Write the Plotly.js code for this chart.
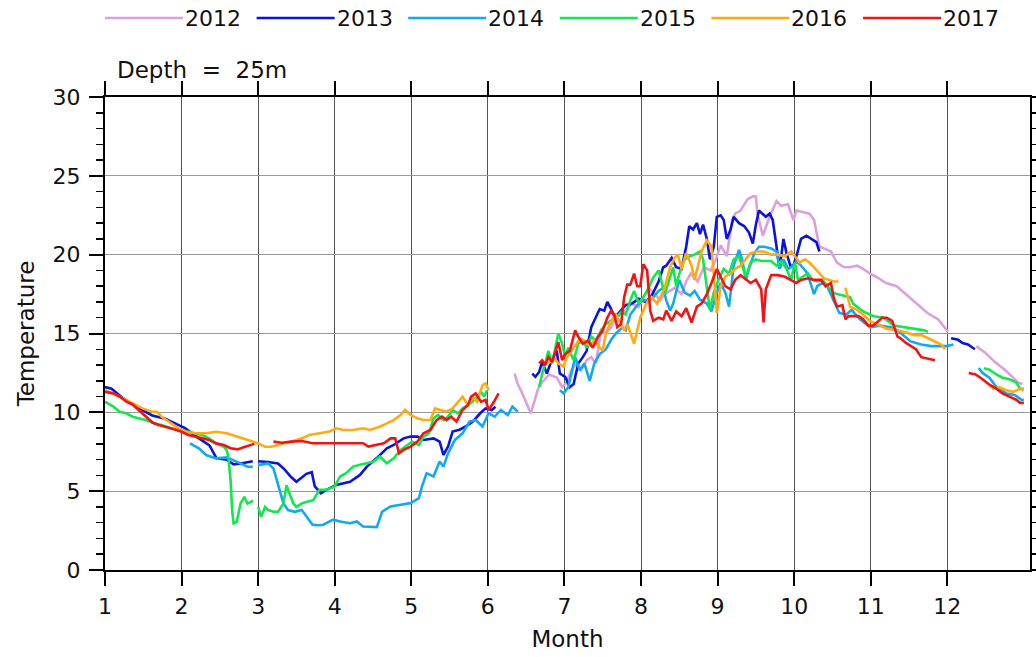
<!DOCTYPE html>
<html>
<head>
<meta charset="utf-8">
<script src="https://cdn.plot.ly/plotly-3.0.1.min.js"></script>
<style>html,body{margin:0;padding:0;background:#fff;}#chart{width:1036px;height:657px;}</style>
</head>
<body>
<div id="chart"></div>
<script>
// Month (decimal) and temperature (°C) at 25 m depth; null marks a data gap
const years = ["2012", "2013", "2014", "2015", "2016", "2017"];
const colors = ["#DDA0DD", "#0A14DC", "#12A8F2", "#14E650", "#FFAA14", "#F01414"];
const monthTicks = [1, 2, 3, 4, 5, 6, 7, 8, 9, 10, 11, 12];
const tempTicks = [0, 5, 10, 15, 20, 25, 30];

const y2012 = [[6.35,12.46],[6.39,11.8],[6.45,11.2],[6.52,10.36],[6.56,9.94],[6.6,10.57],[6.65,11.4],[6.69,11.8],[6.8,12.4],[6.9,12.2],[6.97,11.6],[7.03,11.9],[7.09,12.67],[7.16,13.1],[7.22,12.67],[7.29,13.3],[7.35,13.5],[7.41,13.1],[7.48,15.2],[7.54,15.0],[7.61,15.4],[7.67,16.0],[7.74,16.2],[7.8,16.45],[7.88,16.9],[7.97,16.7],[8.03,17.3],[8.1,17.9],[8.18,17.5],[8.25,17.1],[8.31,17.5],[8.38,17.7],[8.44,17.9],[8.53,17.5],[8.59,18.3],[8.65,18.8],[8.74,18.3],[8.82,19.2],[8.91,19.0],[8.97,19.6],[9.04,20.6],[9.12,19.9],[9.19,22.2],[9.23,22.6],[9.3,22.8],[9.39,23.5],[9.46,23.7],[9.5,23.7],[9.52,22.6],[9.59,21.2],[9.68,22.4],[9.77,23.4],[9.83,23.1],[9.92,23.2],[9.99,22.2],[10.03,22.8],[10.11,22.7],[10.2,22.6],[10.26,22.2],[10.33,20.5],[10.39,20.4],[10.48,20.2],[10.56,19.5],[10.65,19.2],[10.73,19.2],[10.82,19.3],[10.9,19.1],[10.99,18.8],[11.07,18.6],[11.2,18.2],[11.34,18.0],[11.48,17.4],[11.61,16.9],[11.74,16.3],[11.88,15.9],[12.01,15.1],null,[12.38,14.2],[12.49,13.8],[12.62,13.2],[12.75,12.7],[12.86,12.2],[12.92,11.9],[12.98,11.8]];

const y2013 = [[1.0,11.6],[1.085,11.5],[1.234,10.9],[1.447,10.25],[1.617,9.8],[1.787,9.6],[1.957,9.2],[2.045,9.0],[2.227,8.35],[2.364,7.9],[2.455,7.1],[2.59,7.0],[2.68,6.7],[2.77,6.75],[2.93,6.9],null,[3.0,6.9],[3.13,6.85],[3.26,6.75],[3.35,6.35],[3.43,5.9],[3.5,5.6],[3.63,6.1],[3.7,6.2],[3.74,5.3],[3.82,4.87],[3.89,5.08],[4.02,5.4],[4.2,5.6],[4.33,6.03],[4.42,6.56],[4.55,7.1],[4.68,7.72],[4.77,7.93],[4.9,8.35],[4.99,8.46],[5.08,8.46],[5.16,8.25],[5.29,8.35],[5.37,8.14],[5.42,7.3],[5.48,7.83],[5.54,8.78],[5.63,8.9],[5.71,9.1],[5.8,9.4],[5.9,9.94],[5.97,10.25],[6.05,10.15],[6.1,10.36],null,[6.58,12.46],[6.62,12.25],[6.67,12.56],[6.71,13.2],[6.77,12.46],[6.84,13.4],[6.9,13.9],[6.94,12.46],[7.01,12.25],[7.07,11.6],[7.12,11.8],[7.18,13.1],[7.24,13.5],[7.29,13.9],[7.35,15.4],[7.39,15.8],[7.46,16.55],[7.52,16.45],[7.56,17.0],[7.61,16.55],[7.65,16.1],[7.69,16.2],[7.74,16.45],[7.8,16.8],[7.88,16.9],[7.97,17.2],[8.06,17.0],[8.14,17.4],[8.23,18.3],[8.29,19.2],[8.33,19.3],[8.4,19.8],[8.46,19.2],[8.53,19.1],[8.59,20.5],[8.63,21.8],[8.68,21.6],[8.73,22.0],[8.77,21.3],[8.81,21.9],[8.86,21.0],[8.9,19.7],[8.95,20.5],[8.99,22.4],[9.04,22.5],[9.08,22.2],[9.12,21.0],[9.17,21.6],[9.21,22.4],[9.28,22.0],[9.35,21.8],[9.41,21.4],[9.46,20.7],[9.5,21.9],[9.54,22.8],[9.59,22.6],[9.63,22.4],[9.68,22.6],[9.72,22.2],[9.77,20.5],[9.81,19.1],[9.86,21.0],[9.9,20.1],[9.95,19.3],[9.99,19.3],[10.03,19.9],[10.09,21.0],[10.16,21.2],[10.22,21.0],[10.29,20.8],[10.33,20.2],null,[12.05,14.7],[12.14,14.6],[12.2,14.4],[12.27,14.3],[12.36,14.0]];

const y2014 = [[2.11,8.03],[2.23,7.7],[2.32,7.29],[2.45,7.08],[2.59,7.14],[2.68,6.97],[2.77,6.76],[2.86,6.55],[2.93,6.55],null,[3.0,6.65],[3.13,6.76],[3.2,6.44],[3.26,5.49],[3.33,4.22],[3.39,3.8],[3.48,3.69],[3.57,3.8],[3.65,3.26],[3.71,2.87],[3.8,2.84],[3.85,2.87],[3.98,3.19],[4.07,3.08],[4.2,2.97],[4.29,3.08],[4.37,2.76],[4.46,2.76],[4.55,2.72],[4.62,3.71],[4.73,4.03],[4.86,4.14],[4.99,4.24],[5.1,4.56],[5.14,5.3],[5.2,6.14],[5.29,5.93],[5.37,6.88],[5.42,6.56],[5.48,7.4],[5.57,8.25],[5.67,8.67],[5.76,9.41],[5.84,9.51],[5.93,9.1],[6.01,9.94],[6.09,9.73],[6.17,10.15],[6.26,9.83],[6.32,10.36],[6.39,10.04],null,[6.94,11.4],[6.99,11.2],[7.05,11.6],[7.09,12.46],[7.14,13.5],[7.2,12.67],[7.26,13.1],[7.33,12.0],[7.39,13.1],[7.46,13.7],[7.54,14.0],[7.61,14.6],[7.67,15.0],[7.76,15.4],[7.8,15.2],[7.86,16.2],[7.93,16.66],[8.01,17.1],[8.1,17.1],[8.16,17.3],[8.23,17.7],[8.29,17.9],[8.33,17.1],[8.38,16.45],[8.42,16.9],[8.5,18.4],[8.57,17.6],[8.64,17.4],[8.7,17.7],[8.77,17.15],[8.86,16.9],[8.92,16.4],[8.99,17.6],[9.04,18.2],[9.1,17.6],[9.15,16.7],[9.21,19.3],[9.28,20.3],[9.32,19.7],[9.37,18.4],[9.41,19.1],[9.48,20.1],[9.54,20.5],[9.61,20.5],[9.7,20.4],[9.77,20.2],[9.81,19.1],[9.86,19.7],[9.92,19.1],[9.99,19.3],[10.03,19.6],[10.09,19.3],[10.16,18.9],[10.2,18.4],[10.26,17.5],[10.3,18.0],[10.37,18.2],[10.43,18.0],[10.5,17.3],[10.59,16.3],[10.68,16.2],[10.75,16.5],[10.86,15.9],[10.99,15.4],[11.12,15.5],[11.26,15.4],[11.35,15.2],[11.44,14.8],[11.52,14.5],[11.66,14.3],[11.79,14.2],[11.92,14.2],[11.99,14.2],[12.08,14.3],null,[12.41,12.8],[12.46,12.5],[12.55,12.2],[12.64,11.6],[12.77,11.2],[12.88,11.1],[12.97,10.8],[13.0,10.8]];

const y2015 = [[1.0,10.68],[1.11,10.36],[1.19,10.04],[1.28,9.94],[1.36,9.72],[1.45,9.62],[1.53,9.51],[1.64,9.3],[1.74,9.2],[1.87,8.98],[2.0,8.88],[2.14,8.71],[2.27,8.56],[2.36,8.35],[2.45,8.03],[2.55,7.82],[2.59,7.61],[2.61,7.18],[2.64,5.7],[2.66,3.8],[2.68,2.95],[2.72,3.05],[2.77,4.22],[2.82,4.64],[2.86,4.22],[2.91,4.32],[2.93,4.43],null,[3.0,4.0],[3.04,3.37],[3.09,4.0],[3.13,3.8],[3.2,3.69],[3.26,3.69],[3.33,4.22],[3.37,5.38],[3.41,4.85],[3.46,4.22],[3.5,4.0],[3.57,4.22],[3.63,4.32],[3.72,4.43],[3.8,5.08],[3.89,5.08],[4.0,5.3],[4.07,5.93],[4.15,6.14],[4.24,6.56],[4.33,6.67],[4.42,6.77],[4.51,6.88],[4.59,7.2],[4.68,6.77],[4.77,7.09],[4.86,7.62],[4.95,7.93],[5.01,8.14],[5.1,7.93],[5.16,8.46],[5.23,8.67],[5.29,9.62],[5.35,9.83],[5.42,9.51],[5.48,9.73],[5.54,10.15],[5.61,9.94],[5.67,10.25],[5.74,10.46],[5.8,10.68],[5.86,10.99],[5.91,11.3],[5.95,11.0],[5.99,11.4],null,[6.67,11.6],[6.71,12.46],[6.75,13.1],[6.79,13.9],[6.84,13.1],[6.88,14.1],[6.92,15.0],[6.97,14.35],[7.01,13.5],[7.05,14.1],[7.12,13.3],[7.18,14.35],[7.24,14.55],[7.29,14.1],[7.35,14.8],[7.41,14.55],[7.48,15.2],[7.54,15.6],[7.61,15.8],[7.67,16.0],[7.74,16.35],[7.8,16.2],[7.86,17.1],[7.91,17.7],[7.97,16.9],[8.03,17.3],[8.1,17.9],[8.16,18.55],[8.23,19.0],[8.27,18.3],[8.31,17.5],[8.35,18.1],[8.42,19.2],[8.46,18.0],[8.5,18.8],[8.57,19.7],[8.64,19.9],[8.7,20.0],[8.77,20.2],[8.81,19.7],[8.86,18.0],[8.9,16.5],[8.95,17.6],[9.01,18.4],[9.08,19.1],[9.15,18.8],[9.21,19.7],[9.28,19.9],[9.32,19.3],[9.37,18.6],[9.43,19.5],[9.5,19.7],[9.57,19.6],[9.63,19.6],[9.7,19.6],[9.77,19.3],[9.83,19.6],[9.9,19.1],[9.96,18.4],[10.01,19.5],[10.05,18.4],[10.11,18.6],[10.18,18.8],[10.24,18.4],[10.31,18.3],[10.37,18.4],[10.43,18.0],[10.5,17.6],[10.56,17.5],[10.65,17.4],[10.73,17.3],[10.77,16.9],[10.9,16.4],[11.04,16.1],[11.17,16.0],[11.3,15.5],[11.44,15.4],[11.57,15.3],[11.7,15.2],[11.75,15.1],null,[12.48,12.8],[12.55,12.7],[12.64,12.4],[12.72,12.2],[12.81,12.1],[12.9,11.9],[12.95,11.5],[13.0,11.5]];

const y2016 = [[1.0,11.4],[1.11,11.2],[1.23,10.9],[1.36,10.57],[1.49,10.25],[1.62,10.04],[1.68,10.04],[1.74,9.72],[1.83,9.41],[1.96,8.98],[2.05,8.77],[2.18,8.67],[2.32,8.67],[2.45,8.77],[2.59,8.67],[2.73,8.46],[2.86,8.25],[3.0,8.03],[3.09,7.82],[3.17,7.82],[3.26,7.93],[3.35,8.03],[3.43,8.14],[3.57,8.35],[3.67,8.56],[3.8,8.67],[3.93,8.78],[4.02,8.99],[4.11,8.88],[4.24,8.88],[4.37,8.99],[4.46,8.88],[4.59,9.09],[4.68,9.3],[4.77,9.51],[4.86,9.83],[4.92,10.15],[4.99,9.83],[5.08,9.62],[5.16,9.51],[5.25,9.51],[5.31,10.25],[5.37,10.15],[5.46,10.04],[5.54,10.25],[5.61,10.67],[5.67,10.99],[5.74,10.46],[5.8,10.99],[5.86,10.67],[5.93,11.73],[5.97,11.84],[6.01,11.41],null,[6.79,13.1],[6.86,13.5],[6.92,13.1],[6.99,12.9],[7.03,13.5],[7.09,13.9],[7.16,14.35],[7.2,14.7],[7.26,14.55],[7.33,14.25],[7.39,14.55],[7.46,14.1],[7.5,13.9],[7.54,15.0],[7.61,15.8],[7.67,16.2],[7.71,15.8],[7.78,15.2],[7.82,15.6],[7.86,15.0],[7.91,14.35],[7.95,15.2],[7.99,16.0],[8.06,16.8],[8.1,17.1],[8.14,17.3],[8.21,16.9],[8.25,17.3],[8.31,17.9],[8.38,19.2],[8.44,19.8],[8.48,20.0],[8.53,19.1],[8.59,20.1],[8.66,19.3],[8.7,18.4],[8.75,19.5],[8.79,20.2],[8.86,20.9],[8.92,20.5],[8.97,17.6],[8.99,16.3],[9.04,18.0],[9.1,18.6],[9.17,18.8],[9.23,19.1],[9.3,19.3],[9.37,19.7],[9.43,20.1],[9.52,20.2],[9.61,20.2],[9.7,20.0],[9.79,20.0],[9.88,19.9],[9.96,20.2],[10.01,19.9],[10.07,19.5],[10.14,19.7],[10.2,19.5],[10.26,19.2],[10.33,18.8],[10.39,18.5],[10.46,18.4],[10.52,18.3],[10.58,18.3],null,[10.67,17.9],[10.73,16.7],[10.82,16.5],[10.9,16.2],[10.99,15.8],[11.12,15.5],[11.21,15.3],[11.35,15.2],[11.44,15.1],[11.57,14.9],[11.66,14.9],[11.75,14.7],[11.84,14.5],[11.92,14.3],[11.97,14.0],null,[12.55,11.75],[12.6,11.5],[12.68,11.6],[12.77,11.4],[12.86,11.3],[12.95,11.5],[13.0,11.4]];

const y2017 = [[1.0,11.3],[1.11,11.2],[1.19,11.0],[1.28,10.68],[1.36,10.5],[1.45,10.1],[1.53,9.7],[1.62,9.35],[1.7,9.2],[1.79,9.09],[1.87,8.98],[2.0,8.77],[2.09,8.56],[2.18,8.46],[2.27,8.35],[2.36,8.25],[2.45,8.03],[2.55,7.93],[2.64,7.72],[2.73,7.65],[2.82,7.8],[2.91,7.93],[2.95,8.0],null,[3.2,8.14],[3.31,8.07],[3.43,8.14],[3.57,8.18],[3.71,8.04],[3.89,8.04],[4.07,8.04],[4.24,8.04],[4.37,8.04],[4.44,7.83],[4.53,7.93],[4.64,8.04],[4.73,8.35],[4.79,8.35],[4.84,7.4],[4.9,7.62],[4.99,7.83],[5.08,8.14],[5.16,8.67],[5.25,8.88],[5.33,9.51],[5.4,9.73],[5.46,9.51],[5.52,9.73],[5.59,9.41],[5.67,10.15],[5.74,10.46],[5.78,10.99],[5.84,11.2],[5.91,10.67],[5.97,10.78],[6.01,10.15],[6.08,10.67],[6.14,11.2],null,[6.67,13.1],[6.71,13.3],[6.75,13.0],[6.79,13.5],[6.84,13.2],[6.88,13.9],[6.92,14.45],[6.97,13.3],[7.01,13.7],[7.07,13.9],[7.14,15.2],[7.18,14.8],[7.24,14.35],[7.31,14.55],[7.37,14.1],[7.44,14.8],[7.5,15.2],[7.56,16.0],[7.61,16.45],[7.65,16.2],[7.69,15.4],[7.74,15.6],[7.78,17.3],[7.82,18.1],[7.86,18.1],[7.91,18.8],[7.95,18.0],[7.99,18.0],[8.03,19.4],[8.08,19.0],[8.12,16.45],[8.16,15.8],[8.23,16.0],[8.29,15.9],[8.33,16.45],[8.4,15.8],[8.46,16.4],[8.53,16.1],[8.59,16.6],[8.66,15.7],[8.73,16.7],[8.79,16.9],[8.86,17.5],[8.92,18.2],[8.99,19.1],[9.04,18.6],[9.1,18.0],[9.17,17.8],[9.23,18.4],[9.3,18.7],[9.37,18.4],[9.43,18.2],[9.5,18.4],[9.57,17.8],[9.6,15.7],[9.63,17.8],[9.7,18.7],[9.79,18.7],[9.88,18.6],[9.96,18.4],[10.03,18.2],[10.09,18.4],[10.18,18.5],[10.26,18.4],[10.35,18.4],[10.41,18.0],[10.48,18.2],[10.52,17.2],[10.56,16.7],[10.63,16.8],[10.67,15.9],[10.71,16.1],[10.78,16.1],[10.84,16.1],[10.9,15.9],[10.97,15.5],[11.03,15.5],[11.08,15.7],[11.15,16.0],[11.21,16.0],[11.28,15.8],[11.35,14.8],[11.39,14.7],[11.46,14.4],[11.52,14.2],[11.59,14.0],[11.66,13.5],[11.75,13.4],[11.84,13.3],null,[12.28,12.5],[12.37,12.4],[12.46,12.1],[12.55,11.75],[12.64,11.5],[12.72,11.2],[12.81,11.0],[12.9,10.8],[12.95,10.6],[13.0,10.6]];

const seriesData = [y2012, y2013, y2014, y2015, y2016, y2017];
const FONT = "DejaVu Sans, Liberation Sans, sans-serif";

const traces = seriesData.map((pts, i) => ({
  type: "scatter",
  mode: "lines",
  name: years[i],
  x: pts.map(p => p === null ? null : p[0]),
  y: pts.map(p => p === null ? null : p[1]),
  connectgaps: false,
  line: {color: colors[i], width: 2.6},
  showlegend: false
}));

// Layout geometry (pixels) for the hand-drawn legend above the plot
const W = 1036, H = 657, ML = 105, MR = 6, MT = 97, MB = 87;
const plotW = W - ML - MR, plotH = H - MT - MB;
const px2x = px => (px - ML) / plotW;
const py2y = py => 1 + (MT - py) / plotH;

const shapes = [];
const annotations = [];
years.forEach((yr, i) => {
  const x0 = 105 + i * 151.6;
  const x1 = x0 + 78;
  shapes.push({type: "line", xref: "paper", yref: "paper",
    x0: px2x(x0), x1: px2x(x1), y0: py2y(18), y1: py2y(18),
    line: {color: colors[i], width: 2.5}});
  annotations.push({xref: "paper", yref: "paper", x: px2x(x1), y: py2y(19),
    xanchor: "left", yanchor: "middle", showarrow: false, text: yr,
    font: {family: FONT, size: 22, color: "#111"}});
});
annotations.push({xref: "paper", yref: "paper", x: px2x(115), y: py2y(70),
  xanchor: "left", yanchor: "middle", showarrow: false,
  text: "Depth\u00a0\u00a0=\u00a0\u00a025m",
  font: {family: FONT, size: 23, color: "#111"}});

const layout = {
  width: W, height: H,
  margin: {l: ML, r: MR, t: MT, b: MB, pad: 0},
  paper_bgcolor: "#fff", plot_bgcolor: "#fff",
  font: {family: FONT, color: "#111"},
  showlegend: false,
  xaxis: {
    range: [1, 13.08], tickvals: monthTicks, ticktext: monthTicks.map(String),
    ticks: "outside", ticklen: 14, tickwidth: 2, tickcolor: "#000",
    showline: true, linecolor: "#000", linewidth: 2, mirror: "allticks",
    showgrid: true, gridcolor: "#555", gridwidth: 1, zeroline: false,
    tickfont: {family: FONT, size: 22, color: "#111"}, ticklabelstandoff: 2,
    title: {text: "Month", font: {family: FONT, size: 23, color: "#111"}, standoff: 12},
    automargin: false
  },
  yaxis: {
    range: [0, 30], tickvals: tempTicks,
    ticks: "outside", ticklen: 14, tickwidth: 2, tickcolor: "#000",
    minor: {dtick: 1, ticks: "outside", ticklen: 7, tickwidth: 1.5, tickcolor: "#000", showgrid: false},
    showline: true, linecolor: "#000", linewidth: 2, mirror: "allticks",
    showgrid: true, gridcolor: "#999", gridwidth: 1, zeroline: false,
    tickfont: {family: FONT, size: 22, color: "#111"}, ticklabelstandoff: 4,
    title: {text: "Temperature", font: {family: FONT, size: 23, color: "#111"}, standoff: 12},
    automargin: false
  },
  shapes: shapes,
  annotations: annotations
};

Plotly.newPlot("chart", traces, layout, {displayModeBar: false, staticPlot: true});
</script>
</body>
</html>
